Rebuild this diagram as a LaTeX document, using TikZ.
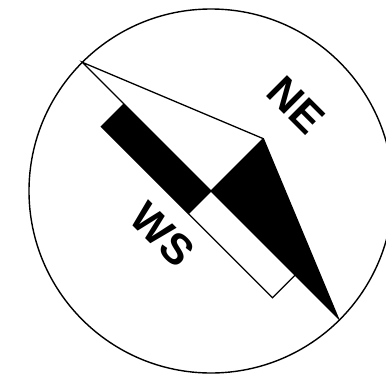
\documentclass[tikz,border=0pt]{standalone}
\usepackage{fontspec}
\setsansfont{Liberation Sans}
\usetikzlibrary{calc}
\tikzset{
  rim/.style={draw, line width=1.4pt},
  needleline/.style={draw, line width=1.3pt, line join=miter},
  darkpart/.style={fill=black},
  pointlabel/.style={font=\sffamily\bfseries\fontsize{43}{43}\selectfont,
    rotate=-45, inner sep=0pt},
}

\begin{document}
\begin{tikzpicture}[x=1pt, y=1pt]
  \useasboundingbox (-211,-185) rectangle (175,191);
  \clip (-211,-185) rectangle (175,191);

  % compass rim
  \draw[rim] (0,0) circle (182);

  \begin{scope}[rotate=-45]
    % needle
    \coordinate (tipW) at (-182,0);
    \coordinate (tipE) at (180,0);
    \coordinate (hub) at (0,0);
    \coordinate (wing) at (0,74);
    % bar
    \coordinate (barA) at (-123,0);
    \coordinate (barB) at (-123,-32);
    \coordinate (barC) at (0,-32);
    \coordinate (barD) at (119,-32);
    \coordinate (barE) at (119,0);

    \fill[darkpart] (hub) -- (wing) -- (tipE) -- cycle;
    \fill[darkpart] (barA) -- (barB) -- (barC) -- (hub) -- cycle;
    \draw[needleline] (tipW) -- (wing) -- (tipE) -- cycle;
    \draw[needleline] (barA) -- (barB) -- (barD) -- (barE);
    \draw[needleline] (wing) -- (hub) -- (barC);

    % labels
    \node[pointlabel] (ne) at (-1,121) {NE};
    \node[pointlabel] (ws) at (-3,-65) {WS};
  \end{scope}
\end{tikzpicture}
\end{document}
